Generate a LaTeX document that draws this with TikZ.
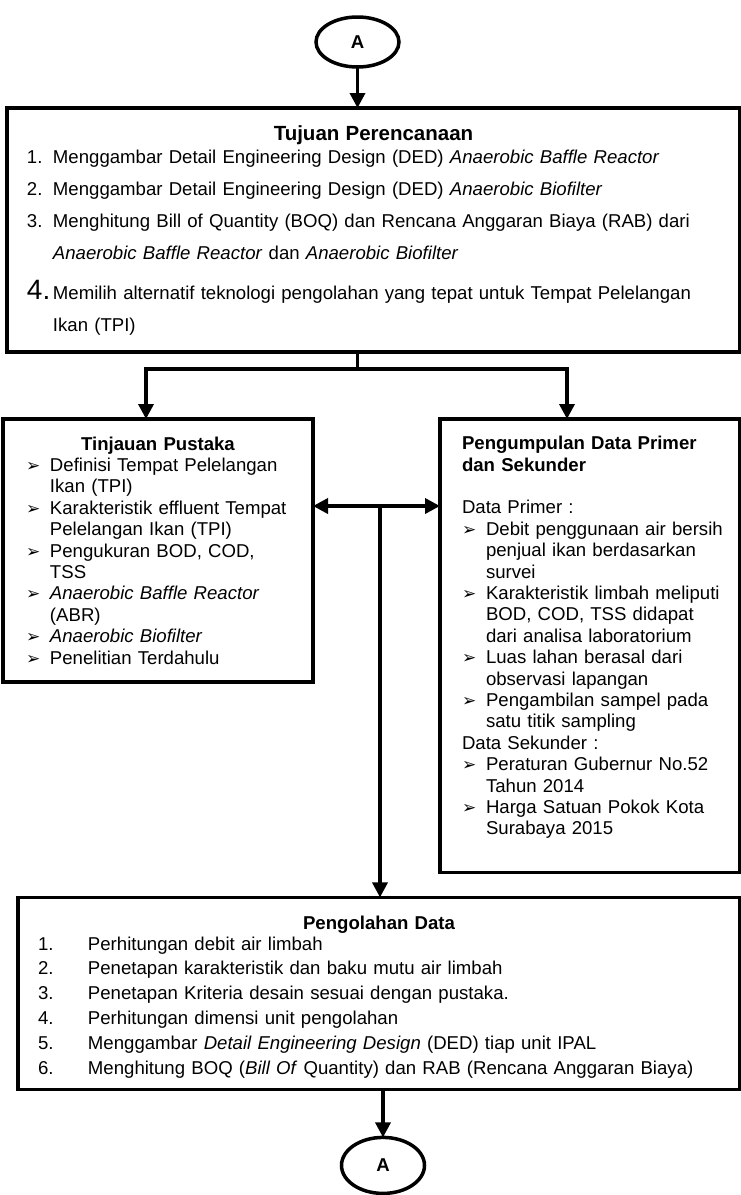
\documentclass[tikz,border=0pt]{standalone}
\usepackage{fontspec}
\setmainfont{Liberation Sans}
\newfontfamily\simbolfont{DejaVu Sans}
\usepackage{tikz}
\usetikzlibrary{shapes.geometric, arrows.meta, positioning, calc}
\newcommand{\bul}{{\simbolfont\fontsize{17}{17}\selectfont ➢}}
\newcommand{\poin}[1]{\makebox[24pt][l]{\bul}\mbox{#1}}
\newcommand{\lanjut}[1]{\hspace*{24pt}\mbox{#1}}

\begin{document}
\begin{tikzpicture}[
        konektor/.style={draw, ellipse, line width=3.5pt, minimum width=83pt, minimum height=50pt,
            inner sep=0pt, outer sep=0pt, font=\bfseries\fontsize{18.6}{20}\selectfont},
        kotak/.style={draw, rectangle, line width=3.5pt, inner ysep=0pt, outer sep=0pt,
            font=\fontsize{18.6}{21.4}\selectfont},
        panah/.style={-{Triangle[length=15pt,width=15pt]}, line width=3.5pt},
        panahdua/.style={{Triangle[length=15pt,width=15pt]}-{Triangle[length=15pt,width=15pt]}, line width=3.5pt}
    ]
        \useasboundingbox (0,0) rectangle (741pt,-1195pt);
        \node[konektor] (atas) at (357.5pt,-42pt) {A};
        \node[kotak, text width=693pt, inner xsep=20pt, font=\fontsize{18.6}{32}\selectfont,
            below=41pt of atas, xshift=16pt] (tujuan) {%
            \rule{0pt}{32pt}\makebox[\linewidth]{\fontsize{20.5}{24}\selectfont\bfseries Tujuan Perencanaan}\\[-9pt]
            \makebox[26pt][l]{1.}Menggambar Detail Engineering Design (DED) \textit{Anaerobic Baffle Reactor}\\
            \makebox[26pt][l]{2.}Menggambar Detail Engineering Design (DED) \textit{Anaerobic Biofilter}\\
            \makebox[26pt][l]{3.}\makebox[\dimexpr\linewidth-26pt][s]{Menghitung Bill of Quantity (BOQ) dan Rencana Anggaran Biaya (RAB) dari}\\
            \hspace*{26pt}\textit{Anaerobic Baffle Reactor} dan \textit{Anaerobic Biofilter}\\[8pt]
            \makebox[26pt][l]{\fontsize{28}{28}\selectfont 4.}\makebox[\dimexpr\linewidth-26pt][s]{Memilih alternatif teknologi pengolahan yang tepat untuk Tempat Pelelangan}\\
            \hspace*{26pt}Ikan (TPI)\rule[-21pt]{0pt}{0pt}};
        \node[kotak, text width=264pt, inner xsep=23pt,
            below right=67pt and -4pt of tujuan.south west] (tinjauan) {%
            \rule{0pt}{31pt}\makebox[\linewidth]{\bfseries Tinjauan Pustaka}\\
            \poin{Definisi Tempat Pelelangan}\\
            \lanjut{Ikan (TPI)}\\
            \poin{Karakteristik effluent Tempat}\\
            \lanjut{Pelelangan Ikan (TPI)}\\
            \poin{Pengukuran BOD, COD,}\\
            \lanjut{TSS}\\
            \poin{\textit{Anaerobic Baffle Reactor}}\\
            \lanjut{(ABR)}\\
            \poin{\textit{Anaerobic Biofilter}}\\
            \poin{Penelitian Terdahulu}\rule[-18pt]{0pt}{0pt}};
        \node[kotak, text width=256pt, inner xsep=22pt,
            below left=67pt and 0pt of tujuan.south east] (pengumpulan) {%
            \rule{0pt}{30.7pt}\textbf{Pengumpulan Data Primer}\\
            \textbf{dan Sekunder}\\[21.4pt]
            Data Primer :\\
            \poin{Debit penggunaan air bersih}\\
            \lanjut{penjual ikan berdasarkan}\\
            \lanjut{survei}\\
            \poin{Karakteristik limbah meliputi}\\
            \lanjut{BOD, COD, TSS didapat}\\
            \lanjut{dari analisa laboratorium}\\
            \poin{Luas lahan berasal dari}\\
            \lanjut{observasi lapangan}\\
            \poin{Pengambilan sampel pada}\\
            \lanjut{satu titik sampling}\\
            Data Sekunder :\\
            \poin{Peraturan Gubernur No.52}\\
            \lanjut{Tahun 2014}\\
            \poin{Harga Satuan Pokok Kota}\\
            \lanjut{Surabaya 2015}\rule[-37.5pt]{0pt}{0pt}};
        \node[kotak, text width=682pt, inner xsep=20pt, font=\fontsize{18.6}{24.8}\selectfont,
            below left=25pt and 0pt of pengumpulan.south east] (pengolahan) {%
            \rule{0pt}{31.7pt}\makebox[\linewidth]{\bfseries Pengolahan Data}\\[-3.8pt]
            \makebox[50pt][l]{1.}Perhitungan debit air limbah\\
            \makebox[50pt][l]{2.}Penetapan karakteristik dan baku mutu air limbah\\
            \makebox[50pt][l]{3.}Penetapan Kriteria desain sesuai dengan pustaka.\\
            \makebox[50pt][l]{4.}Perhitungan dimensi unit pengolahan\\
            \makebox[50pt][l]{5.}Menggambar \textit{Detail Engineering Design} (DED) tiap unit IPAL\\
            \makebox[50pt][l]{6.}Menghitung BOQ (\textit{Bill Of} Quantity) dan RAB (Rencana Anggaran Biaya)\rule[-15.3pt]{0pt}{0pt}};
        \node[konektor, minimum height=56pt, below=48pt of pengolahan.south, xshift=4pt] (bawah) {A};

        \coordinate (cabang) at ($(atas |- tujuan.south)+(0,-17pt)$);
        \coordinate (tengah) at (380pt,-506pt);
        \draw[panah] (atas) -- (atas |- tujuan.north);
        \draw[line width=3.5pt] (atas |- tujuan.south) -- (cabang);
        \draw[panah] (cabang) -| ([xshift=-12pt]tinjauan.north);
        \draw[panah] (cabang) -| ([xshift=-23pt]pengumpulan.north);
        \draw[panahdua] (tinjauan.east |- tengah) -- (pengumpulan.west |- tengah);
        \draw[panah] (tengah) -- (tengah |- pengolahan.north);
        \draw[panah] (bawah |- pengolahan.south) -- (bawah);
    \end{tikzpicture}
\end{document}
